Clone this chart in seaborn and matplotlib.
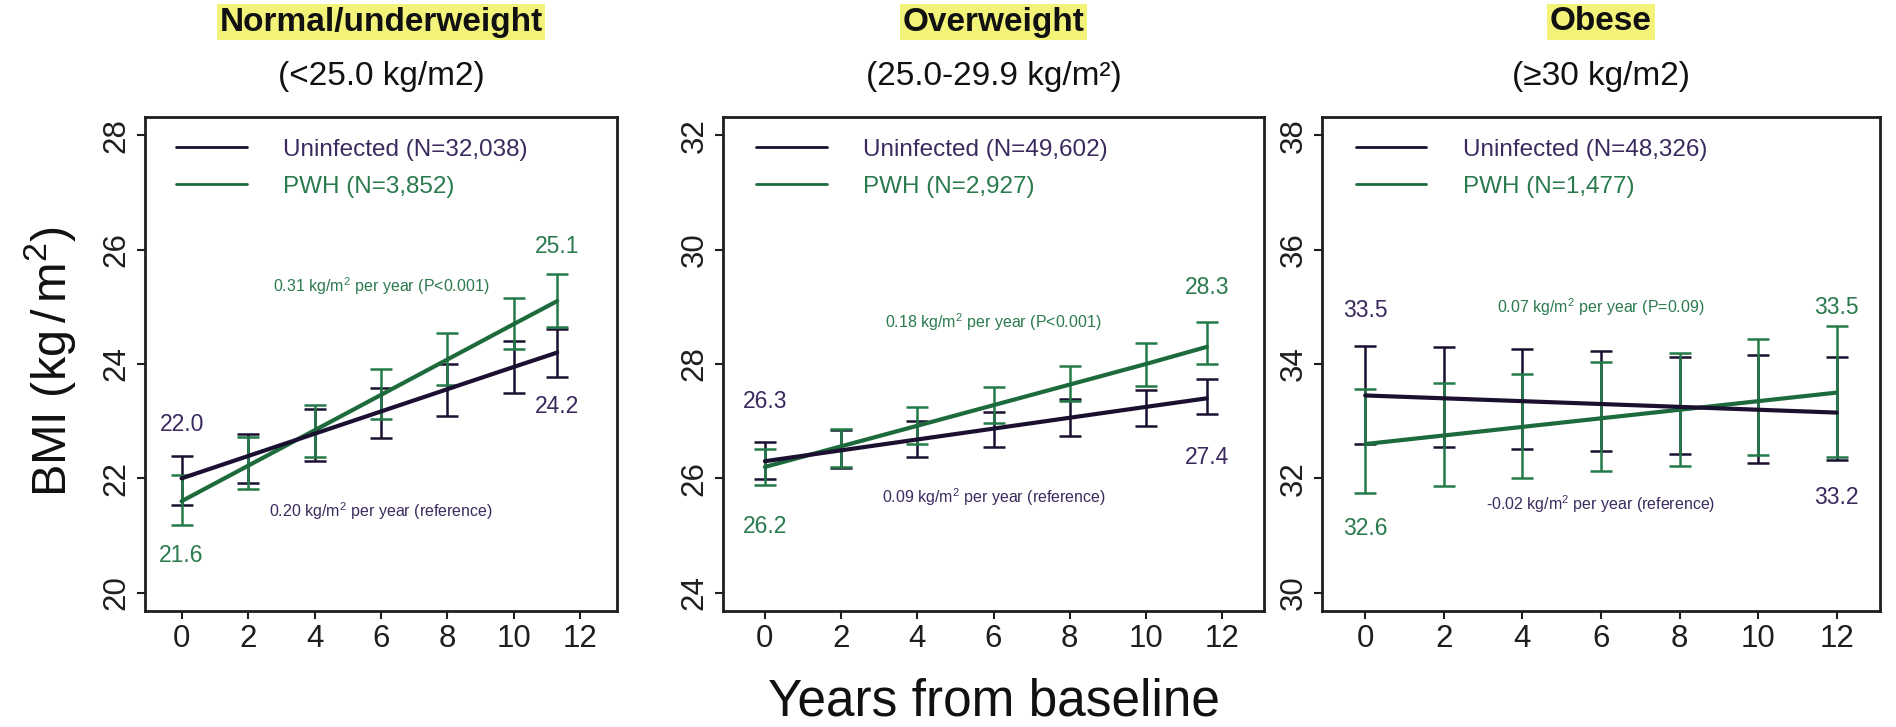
import numpy as np
import pandas as pd
import matplotlib
matplotlib.use("Agg")
import matplotlib.pyplot as plt
from matplotlib.lines import Line2D
import seaborn as sns

sns.set_theme(style="white")
plt.rcParams['font.family'] = ['Liberation Sans', 'DejaVu Sans']
plt.rcParams['mathtext.fontset'] = 'custom'
plt.rcParams['mathtext.rm'] = 'Liberation Sans'
plt.rcParams['mathtext.it'] = 'Liberation Sans:italic'
plt.rcParams['mathtext.bf'] = 'Liberation Sans:bold'

# ---------------- data ----------------
panel_titles = ["Normal/underweight", "Overweight", "Obese"]
panel_subtitles = ["(<25.0 kg/m2)", "(25.0-29.9 kg/m\u00b2)", "(\u226530 kg/m2)"]
uninf_n = ["32,038", "49,602", "48,326"]
pwh_n = ["3,852", "2,927", "1,477"]

times_normal = [0, 2, 4, 6, 8, 10, 11.3]
uninf_mean_normal = [22.0, 22.39, 22.78, 23.17, 23.56, 23.95, 24.2]
uninf_lo_normal = [21.53, 21.91, 22.31, 22.70, 23.09, 23.50, 23.77]
uninf_hi_normal = [22.39, 22.77, 23.21, 23.58, 24.00, 24.41, 24.62]
pwh_mean_normal = [21.6, 22.22, 22.84, 23.46, 24.08, 24.70, 25.1]
pwh_lo_normal = [21.19, 21.81, 22.38, 23.04, 23.63, 24.26, 24.64]
pwh_hi_normal = [22.06, 22.73, 23.29, 23.91, 24.54, 25.16, 25.58]

times_over = [0, 2, 4, 6, 8, 10, 11.6]
uninf_mean_over = [26.3, 26.49, 26.68, 26.87, 27.06, 27.25, 27.4]
uninf_lo_over = [25.98, 26.18, 26.37, 26.54, 26.74, 26.92, 27.12]
uninf_hi_over = [26.63, 26.84, 27.00, 27.16, 27.39, 27.54, 27.73]
pwh_mean_over = [26.2, 26.56, 26.92, 27.28, 27.64, 28.0, 28.3]
pwh_lo_over = [25.88, 26.20, 26.60, 26.96, 27.35, 27.62, 28.00]
pwh_hi_over = [26.51, 26.86, 27.25, 27.60, 27.97, 28.36, 28.74]

times_obese = [0, 2, 4, 6, 8, 10, 12]
uninf_mean_obese = [33.45, 33.4, 33.35, 33.3, 33.25, 33.2, 33.15]
uninf_lo_obese = [32.60, 32.54, 32.52, 32.48, 32.43, 32.26, 32.32]
uninf_hi_obese = [34.32, 34.30, 34.26, 34.22, 34.12, 34.16, 34.12]
pwh_mean_obese = [32.6, 32.75, 32.9, 33.05, 33.2, 33.35, 33.5]
pwh_lo_obese = [31.75, 31.87, 32.01, 32.12, 32.22, 32.41, 32.38]
pwh_hi_obese = [33.56, 33.66, 33.82, 34.03, 34.19, 34.44, 34.67]

uninf_start_lbl = ["22.0", "26.3", "33.5"]
uninf_end_lbl = ["24.2", "27.4", "33.2"]
pwh_start_lbl = ["21.6", "26.2", "32.6"]
pwh_end_lbl = ["25.1", "28.3", "33.5"]

pwh_slope_txt = ["0.31 kg/m$^2$ per year (P<0.001)",
                 "0.18 kg/m$^2$ per year (P<0.001)",
                 "0.07 kg/m$^2$ per year (P=0.09)"]
uninf_slope_txt = ["0.20 kg/m$^2$ per year (reference)",
                   "0.09 kg/m$^2$ per year (reference)",
                   "-0.02 kg/m$^2$ per year (reference)"]

y_ticks = [[20, 22, 24, 26, 28], [24, 26, 28, 30, 32], [30, 32, 34, 36, 38]]
x_ticks = [0, 2, 4, 6, 8, 10, 12]

panels = [
    (times_normal, uninf_mean_normal, uninf_lo_normal, uninf_hi_normal,
     pwh_mean_normal, pwh_lo_normal, pwh_hi_normal),
    (times_over, uninf_mean_over, uninf_lo_over, uninf_hi_over,
     pwh_mean_over, pwh_lo_over, pwh_hi_over),
    (times_obese, uninf_mean_obese, uninf_lo_obese, uninf_hi_obese,
     pwh_mean_obese, pwh_lo_obese, pwh_hi_obese),
]

# ---------------- layout / style ----------------
W, H = 1896, 727
axes_px = [(145, 472), (723, 541), (1322, 558)]
ax_top, ax_bot = 117, 611
label_off = [0.95, 1.04, 1.48]
slope_y = [(25.37, 21.43), (28.73, 25.67), (34.99, 31.55)]

C_UN = "#1b1030"
C_UN_TXT = "#3b2a5e"
C_PWH = "#1d6b3c"
C_PWH_BAR = "#237a48"
C_PWH_TXT = "#2a7a4e"
C_AX = "#1e1e1e"

fig = plt.figure(figsize=(W / 100, H / 100), dpi=100)
fig.patch.set_facecolor("white")

for i, (left, width) in enumerate(axes_px):
    ax = fig.add_axes([left / W, 1 - ax_bot / H, width / W, (ax_bot - ax_top) / H])
    t, um, ul, uh, pm, pl, ph = panels[i]
    df = pd.DataFrame({
        "time": list(t) + list(t),
        "bmi": list(um) + list(pm),
        "group": ["Uninfected"] * len(t) + ["PWH"] * len(t),
    })
    um_a, ul_a, uh_a = map(np.array, (um, ul, uh))
    pm_a, pl_a, ph_a = map(np.array, (pm, pl, ph))
    ax.errorbar(t, um_a, yerr=[um_a - ul_a, uh_a - um_a], fmt="none",
                ecolor=C_UN, elinewidth=1.8, capsize=8, capthick=1.8, zorder=2)
    ax.errorbar(t, pm_a, yerr=[pm_a - pl_a, ph_a - pm_a], fmt="none",
                ecolor=C_PWH_BAR, elinewidth=1.8, capsize=8, capthick=1.8, zorder=2)
    sns.lineplot(data=df, x="time", y="bmi", hue="group",
                 palette={"Uninfected": C_UN, "PWH": C_PWH},
                 hue_order=["PWH", "Uninfected"],
                 linewidth=3.0, legend=False, ax=ax, zorder=3, errorbar=None)

    ymin, ymax = y_ticks[i][0], y_ticks[i][-1]
    pad = 0.04 * (ymax - ymin)
    ax.set_ylim(ymin - pad, ymax + pad)
    ax.set_xlim(-1.1, 13.1)
    ax.set_yticks(y_ticks[i])
    ax.set_xticks(x_ticks)
    ax.set_xlabel("")
    ax.set_ylabel("")
    ax.tick_params(axis="both", direction="out", length=5.5, width=1.5,
                   colors=C_AX, labelsize=22.5, left=True, bottom=True, pad=4)
    for lbl in ax.get_yticklabels():
        lbl.set_rotation(90)
        lbl.set_va("center")
    for s in ax.spines.values():
        s.set_visible(True)
        s.set_color(C_AX)
        s.set_linewidth(2.0)

    # value labels
    off = label_off[i]
    ax.text(t[0], um[0] + off, uninf_start_lbl[i], color=C_UN_TXT, fontsize=16.5,
            ha="center", va="center")
    ax.text(t[0], pm[0] - off, pwh_start_lbl[i], color=C_PWH_TXT, fontsize=16.5,
            ha="center", va="center")
    ax.text(t[-1], pm[-1] + off, pwh_end_lbl[i], color=C_PWH_TXT, fontsize=16.5,
            ha="center", va="center")
    ax.text(t[-1], um[-1] - off, uninf_end_lbl[i], color=C_UN_TXT, fontsize=16.5,
            ha="center", va="center")
    # slope annotations
    ax.text(6, slope_y[i][0], pwh_slope_txt[i], color=C_PWH_TXT, fontsize=11.5,
            ha="center", va="center")
    ax.text(6, slope_y[i][1], uninf_slope_txt[i], color=C_UN_TXT, fontsize=11.5,
            ha="center", va="center")

    handles = [Line2D([], [], color=C_UN, lw=2.0), Line2D([], [], color=C_PWH, lw=2.0)]
    leg = ax.legend(handles, [f"Uninfected (N={uninf_n[i]})", f"PWH (N={pwh_n[i]})"],
                    loc="upper left", frameon=False, fontsize=17.5, handlelength=2.9,
                    handletextpad=1.5, labelspacing=0.6, borderaxespad=0.3,
                    bbox_to_anchor=(0.03, 0.99))
    leg.get_texts()[0].set_color(C_UN_TXT)
    leg.get_texts()[1].set_color(C_PWH_TXT)

    cx = (left + width / 2) / W
    fig.text(cx, 1 - 22 / H, panel_titles[i], ha="center", va="center",
             fontsize=24, fontweight="bold", color="#111111",
             bbox=dict(facecolor="#f3f37a", edgecolor="none",
                       boxstyle="square,pad=0.08"))
    fig.text(cx, 1 - 77 / H, panel_subtitles[i], ha="center", va="center",
             fontsize=24, color="#111111")

fig.text(994 / W, 1 - 702 / H, "Years from baseline", ha="center", va="center",
         fontsize=37, color="#111111")
fig.text(50 / W, 1 - 362 / H, r"BMI (kg$\,$/$\,$m$^2$)", ha="center", va="center",
         rotation=90, fontsize=35, color="#111111")

fig.savefig("out.png", dpi=100, facecolor="white")
